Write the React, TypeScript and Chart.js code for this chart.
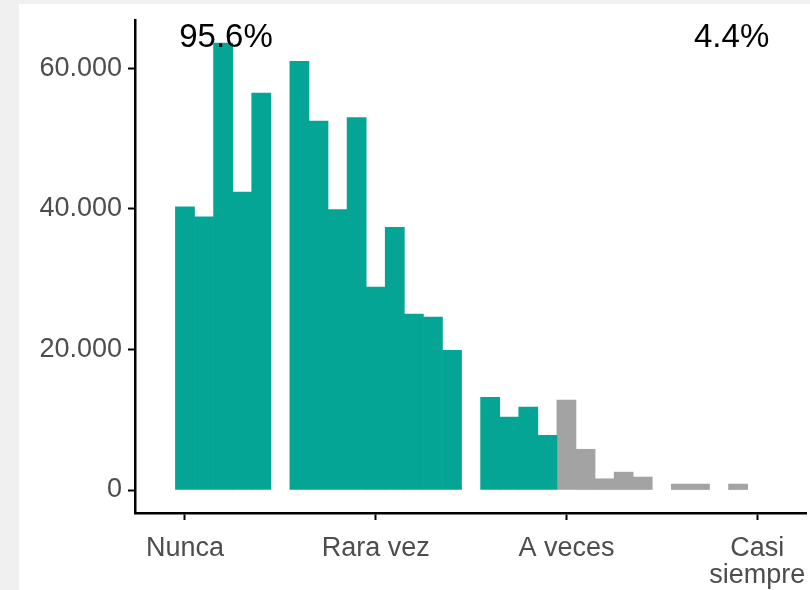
import React, { useEffect, useRef } from "react";
import { Chart, registerables } from "chart.js";

Chart.register(...registerables);

// Bin centres (scale: 1 = Nunca ... 4 = Casi siempre) and counts
const tealBins = [1.0, 1.1, 1.2, 1.3, 1.4, 1.6, 1.7, 1.8, 1.9, 2.0, 2.1, 2.2, 2.3, 2.4, 2.6, 2.7, 2.8, 2.9];
const tealCounts = [40300, 38900, 63600, 42400, 56500, 61000, 52500, 39900, 53000, 28900, 37400, 25050, 24600, 19900, 13200, 10400, 11800, 7800];
const grayBins = [3.0, 3.1, 3.2, 3.3, 3.4, 3.6, 3.7, 3.9];
const grayCounts = [12800, 5800, 1600, 2550, 1850, 850, 850, 850];

const xTickValues = [1, 2, 3, 4];
const xTickLabels: (string | string[])[] = ["Nunca", "Rara vez", "A veces", ["Casi", "siempre"]];
const yTickValues = [0, 20000, 40000, 60000];

const annotationTexts = ["95.6%", "4.4%"];
const annotationX = [1.215, 3.866];
const annotationY = [64400, 64400];

const TEAL = "#05A595";
const GRAY = "#A3A3A3";
const LABEL_COLOR = "#4D4D4D";
const FONT = "'Liberation Sans', Arial, sans-serif";

const fmt = (v: number) => String(Math.round(v)).replace(/\B(?=(\d{3})+(?!\d))/g, ".");

const annotationPlugin = {
  id: "pctLabels",
  afterDatasetsDraw(chart: any) {
    const { ctx, scales } = chart;
    ctx.save();
    ctx.fillStyle = "#000";
    ctx.font = `33px ${FONT}`;
    ctx.textAlign = "center";
    ctx.textBaseline = "middle";
    annotationTexts.forEach((t, i) => {
      ctx.fillText(t, scales.x.getPixelForValue(annotationX[i]), scales.y.getPixelForValue(annotationY[i]));
    });
    ctx.restore();
  },
};

export default function App() {
  const ref = useRef<HTMLCanvasElement>(null);
  useEffect(() => {
    if (!ref.current) return;
    const gridCommon = {
      drawOnChartArea: false,
      drawTicks: true,
      tickLength: 7,
      tickWidth: 2,
      tickColor: "#000",
      offset: false,
    };
    const borderCommon = { display: true, color: "#000", width: 2.5 };
    const chart = new Chart(ref.current, {
      type: "bar",
      data: {
        datasets: [
          {
            data: tealBins.map((b, i) => ({ x: b, y: tealCounts[i] })),
            backgroundColor: TEAL,
            borderWidth: 0,
            barPercentage: 1,
            categoryPercentage: 1,
            grouped: false,
          } as any,
          {
            data: grayBins.map((b, i) => ({ x: b, y: grayCounts[i] })),
            backgroundColor: GRAY,
            borderWidth: 0,
            barPercentage: 1,
            categoryPercentage: 1,
            grouped: false,
          } as any,
        ],
      },
      options: {
        responsive: false,
        animation: false,
        layout: { padding: { top: 20, right: 4, left: 0, bottom: 0 } },
        plugins: { legend: { display: false }, tooltip: { enabled: false } },
        scales: {
          x: {
            type: "linear",
            offset: false,
            min: 0.738,
            max: 4.256,
            grid: gridCommon,
            border: borderCommon,
            afterBuildTicks: (s: any) => {
              s.ticks = xTickValues.map((v) => ({ value: v }));
            },
            afterFit: (s: any) => {
              s.height = 77;
              s.paddingLeft = 0;
              s.paddingRight = 0;
            },
            ticks: {
              autoSkip: false,
              maxRotation: 0,
              padding: 15,
              color: LABEL_COLOR,
              font: { family: FONT, size: 27, lineHeight: 1.0 },
              callback: (_v: any, i: number) => xTickLabels[i],
            },
          } as any,
          y: {
            type: "linear",
            min: -3270,
            max: 66900,
            grid: gridCommon,
            border: borderCommon,
            afterBuildTicks: (s: any) => {
              s.ticks = yTickValues.map((v) => ({ value: v }));
            },
            afterFit: (s: any) => {
              s.width = 135;
              s.paddingTop = 0;
              s.paddingBottom = 0;
            },
            ticks: {
              padding: 6,
              color: LABEL_COLOR,
              font: { family: FONT, size: 27 },
              callback: (v: any) => fmt(Number(v)),
            },
          } as any,
        },
      },
      plugins: [annotationPlugin],
    });
    return () => chart.destroy();
  }, []);

  return (
    <div style={{ position: "fixed", left: 0, top: 0, width: 810, height: 590, background: "#F0F0F0" }}>
      <div style={{ position: "absolute", left: 19, top: 4, right: 0, bottom: 0, background: "#FFFFFF" }} />
      <canvas ref={ref} width={810} height={590} style={{ position: "absolute", left: 0, top: 0, width: 810, height: 590 }} />
    </div>
  );
}
